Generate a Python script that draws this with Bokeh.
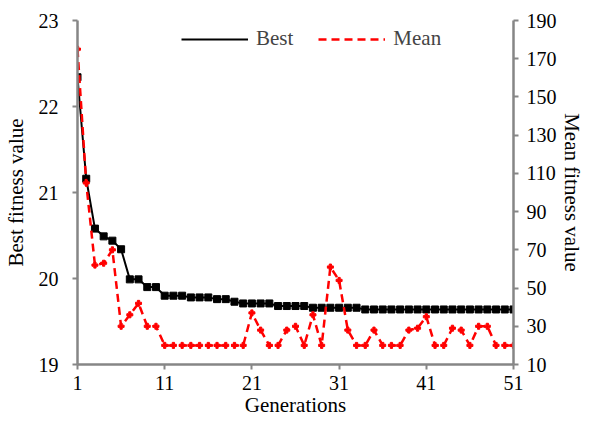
from bokeh.plotting import figure
from bokeh.models import Range1d, LinearAxis, FixedTicker, Legend, LegendItem, ColumnDataSource
from bokeh.embed import file_html
from bokeh.resources import INLINE

generations = list(range(1, 52))
best = [22.34, 21.16, 20.58, 20.49, 20.44, 20.34, 19.99, 19.99, 19.90, 19.90,
        19.80, 19.80, 19.80, 19.78, 19.78, 19.78, 19.76, 19.76, 19.73, 19.71,
        19.71, 19.71, 19.71, 19.68, 19.68, 19.68, 19.68, 19.66, 19.66, 19.66,
        19.66, 19.66, 19.66, 19.64, 19.64, 19.64, 19.64, 19.64, 19.64, 19.64,
        19.64, 19.64, 19.64, 19.64, 19.64, 19.64, 19.64, 19.64, 19.64, 19.64, 19.64]
mean = [175, 105, 62, 63, 70, 30, 36, 42, 30, 30,
        20, 20, 20, 20, 20, 20, 20, 20, 20, 20,
        37, 28, 20, 20, 28, 30, 20, 36, 20, 61,
        54, 28, 20, 20, 28, 20, 20, 20, 28, 29,
        35, 20, 20, 29, 28, 20, 30, 30, 20, 20, 20]
x_ticks = [1, 11, 21, 31, 41, 51]
left_ticks = [19, 20, 21, 22, 23]
right_ticks = [10, 30, 50, 70, 90, 110, 130, 150, 170, 190]

FONT = "Liberation Serif"
AXIS_COLOR = "#868686"

src = ColumnDataSource(dict(g=generations, best=best, mean=mean))

p = figure(width=586, height=423, output_backend="svg", toolbar_location=None,
           x_range=Range1d(1, 51), y_range=Range1d(19, 23),
           min_border_left=77, min_border_right=68, min_border_top=20, min_border_bottom=59)
p.extra_y_ranges = {"mean": Range1d(10, 190)}
p.outline_line_color = None
p.xgrid.visible = False
p.ygrid.visible = False

r_best_line = p.line("g", "best", source=src, line_color="black", line_width=2)
r_best_pts = p.scatter("g", "best", source=src, marker="square", size=7,
                       fill_color="black", line_color="black")
r_mean_line = p.line("g", "mean", source=src, y_range_name="mean", line_color="#ff0000",
                     line_width=2.5, line_dash="8 5")
r_mean_pts = p.scatter("g", "mean", source=src, y_range_name="mean", marker="plus",
                       size=6, fill_color="#ff0000", line_color="#ff0000")

def style_axis(ax):
    ax.axis_line_color = AXIS_COLOR
    ax.axis_line_width = 2.5
    ax.major_tick_line_color = AXIS_COLOR
    ax.major_tick_line_width = 2
    ax.major_tick_out = 5
    ax.major_tick_in = 0
    ax.minor_tick_line_color = None
    ax.major_label_text_font = FONT
    ax.major_label_text_font_size = "20px"
    ax.major_label_text_color = "black"
    ax.axis_label_text_font = FONT
    ax.axis_label_text_font_size = "21px"
    ax.axis_label_text_font_style = "normal"
    ax.axis_label_text_color = "black"

xa = p.xaxis[0]
style_axis(xa)
xa.ticker = FixedTicker(ticks=x_ticks)
xa.axis_label = "Generations"
xa.major_label_standoff = 6
xa.axis_label_standoff = 0

ya = p.yaxis[0]
style_axis(ya)
ya.ticker = FixedTicker(ticks=left_ticks)
ya.axis_label = "Best fitness value"
ya.major_label_standoff = 14
ya.axis_label_standoff = 8

ra = LinearAxis(y_range_name="mean", axis_label="Mean fitness value")
style_axis(ra)
ra.ticker = FixedTicker(ticks=right_ticks)
ra.major_label_standoff = 8
ra.axis_label_standoff = 0
p.add_layout(ra, "right")

legend = Legend(items=[LegendItem(label="Best", renderers=[r_best_line]),
                       LegendItem(label="Mean", renderers=[r_mean_line])],
                location=(104, 313), orientation="horizontal",
                glyph_width=67, glyph_height=20, label_standoff=8, spacing=25,
                padding=0, margin=0, border_line_color=None, background_fill_alpha=0,
                label_text_font=FONT, label_text_font_size="21px")
p.add_layout(legend)

open("out.html", "w").write(file_html(p, INLINE))
